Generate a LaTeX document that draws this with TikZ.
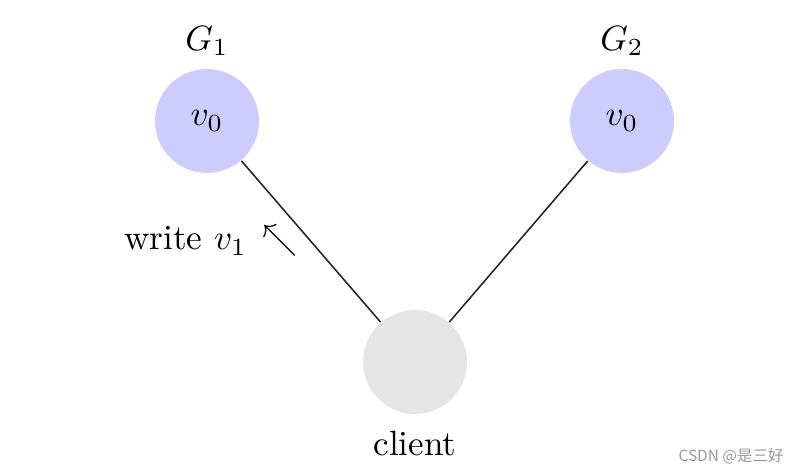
\documentclass[tikz,border=0pt]{standalone}
\usepackage{amsmath}
\usepackage{amssymb}
\usepackage{fontspec}
\newfontfamily\cjkfont{Noto Sans CJK SC}
\usetikzlibrary{arrows.meta}
\usetikzlibrary{calc}

\begin{document}
\begin{tikzpicture}[
	server/.style={circle,fill=blue!20,minimum size=1.04cm,inner sep=0pt},
	user/.style={circle,fill=gray!20,minimum size=1.04cm,inner sep=0pt},
	link/.style={black!85,line width=0.45pt}
	]

	\useasboundingbox (0,0) rectangle (7.98,4.74);

	\node[server,label=above:{$G_1$}] (g1) at (2.07,3.53) {$v_0$};
	\node[server,label=above:{$G_2$}] (g2) at (6.22,3.53) {$v_0$};
	\node[user,label={[label distance=1pt]below:client}] (client) at (4.15,1.12) {};

	\draw[link] (g1) -- (client);
	\draw[link] (g2) -- (client);

	\node (write) at (2.11,2.33) {write $v_1$\hspace{4.5pt}$\nwarrow$};

	% watermark
	\node[text=black!40,font=\cjkfont\fontsize{4.4pt}{5pt}\selectfont] (mark) at (7.31,0.18) {CSDN @是三好};

\end{tikzpicture}
\end{document}
